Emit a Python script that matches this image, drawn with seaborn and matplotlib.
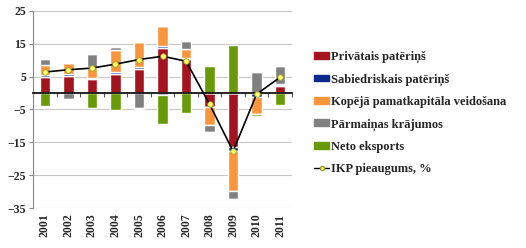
import numpy as np
import pandas as pd
import matplotlib
matplotlib.use("Agg")
import matplotlib.pyplot as plt
import seaborn as sns
from matplotlib.patches import Patch
from matplotlib.lines import Line2D

# dati ========================================================================
gadi = ['2001', '2002', '2003', '2004', '2005', '2006', '2007', '2008', '2009', '2010', '2011']
privatais = [5.0, 5.3, 4.3, 5.9, 7.4, 13.8, 10.4, -4.1, -16.3, 0.0, 2.0]
sabiedriskais = [0.4, 0.5, 0.4, 0.4, 0.4, 0.5, 0.4, -0.2, -1.2, -1.2, 0.4]
pamatkapitals = [3.2, 3.2, 3.3, 6.7, 7.7, 6.1, 2.7, -5.3, -12.3, -5.2, 0.3]
krajumi = [1.9, -1.8, 4.0, 0.9, -4.6, -0.5, 2.2, -2.1, -2.5, 6.4, 5.6]
neto_eksports = [-3.8, 0.0, -4.4, -5.1, -0.4, -9.0, -6.1, 8.3, 14.6, -0.5, -3.6]
ikp = [6.4, 7.1, 7.6, 8.8, 10.2, 11.2, 9.7, -3.4, -17.7, -0.3, 4.8]

nosaukumi = ['Privātais patēriņš', 'Sabiedriskais patēriņš',
             'Kopējā pamatkapitāla veidošana', 'Pārmaiņas krājumos', 'Neto eksports']
krasas = ['#A3141E', '#0B2A8C', '#F9963C', '#808080', '#679A06']

sns.set_style('white')
plt.rcParams['font.family'] = ['Liberation Serif', 'DejaVu Serif']
plt.rcParams['font.weight'] = 'bold'

fig = plt.figure(figsize=(5.26, 2.48), dpi=100)
ax = fig.add_axes([0.063, 0.161, 0.492, 0.795])

x = np.arange(len(gadi))
# stabiņi (pozitīvie un negatīvie krājas atsevišķi, kā Excel) ==================
poz_apaksa = np.zeros(len(gadi))
neg_apaksa = np.zeros(len(gadi))
for vert, kr in zip([privatais, sabiedriskais, pamatkapitals, krajumi, neto_eksports], krasas):
    v = np.array(vert)
    poz = np.where(v > 0, v, 0)
    neg = np.where(v < 0, v, 0)
    ax.bar(x, poz, 0.45, bottom=poz_apaksa, color=kr, zorder=2)
    ax.bar(x, neg, 0.45, bottom=neg_apaksa, color=kr, zorder=2)
    poz_apaksa += poz
    neg_apaksa += neg

# IKP līnija
df_ikp = pd.DataFrame({'x': x, 'ikp': ikp})
sns.lineplot(data=df_ikp, x='x', y='ikp', ax=ax, color='black', lw=1.2,
             marker='o', markersize=4, markerfacecolor='#FFFF66',
             markeredgecolor='#9A9A30', markeredgewidth=0.6, zorder=4)

ax.set_xlim(-0.5, len(gadi) - 0.5)
ax.set_ylim(-35, 25)
ax.set_yticks([25, 15, 5, -5, -15, -25, -35])
ax.yaxis.grid(True, color='#C8C8C8', lw=0.8, zorder=0)
ax.tick_params(axis='y', length=3, width=0.8, color='#888888', labelsize=8.5, pad=2, left=True)
for t in ax.get_yticklabels():
    t.set_fontweight('bold')
ax.set_xlabel('')
ax.set_ylabel('')

# x ass pie nulles ar iedaļām starp kategorijām
ax.spines['bottom'].set_position(('data', 0))
ax.spines['bottom'].set_color('black')
ax.spines['bottom'].set_linewidth(1.2)
ax.spines['bottom'].set_zorder(3)
ax.set_xticks(np.arange(len(gadi) + 1) - 0.5)
ax.tick_params(axis='x', length=3, width=0.8, color='#555555', direction='out',
               labelbottom=False, bottom=True)
ax.spines['left'].set_color('#888888')
for s in ['top', 'right']:
    ax.spines[s].set_visible(False)

sec = ax.secondary_xaxis(0.0)
sec.set_xticks(x)
sec.set_xticklabels(gadi, rotation=90, fontsize=8.5, fontweight='bold')
sec.tick_params(length=0, pad=4)
sec.spines['bottom'].set_visible(False)

# leģenda
roks = [Patch(color=k, label=n) for k, n in zip(krasas, nosaukumi)]
roks.append(Line2D([], [], color='black', lw=1.0, marker='o', markersize=3,
                   markerfacecolor='#FFFF66', markeredgecolor='#9A9A30',
                   label='IKP pieaugums, %'))
fig.legend(handles=roks, loc='upper left', bbox_to_anchor=(0.588, 0.815),
           frameon=False, handlelength=1.2, handleheight=0.45,
           handletextpad=0.15, labelspacing=0.82, borderaxespad=0,
           prop={'weight': 'bold', 'size': 9})

fig.savefig('out.png', dpi=100)
